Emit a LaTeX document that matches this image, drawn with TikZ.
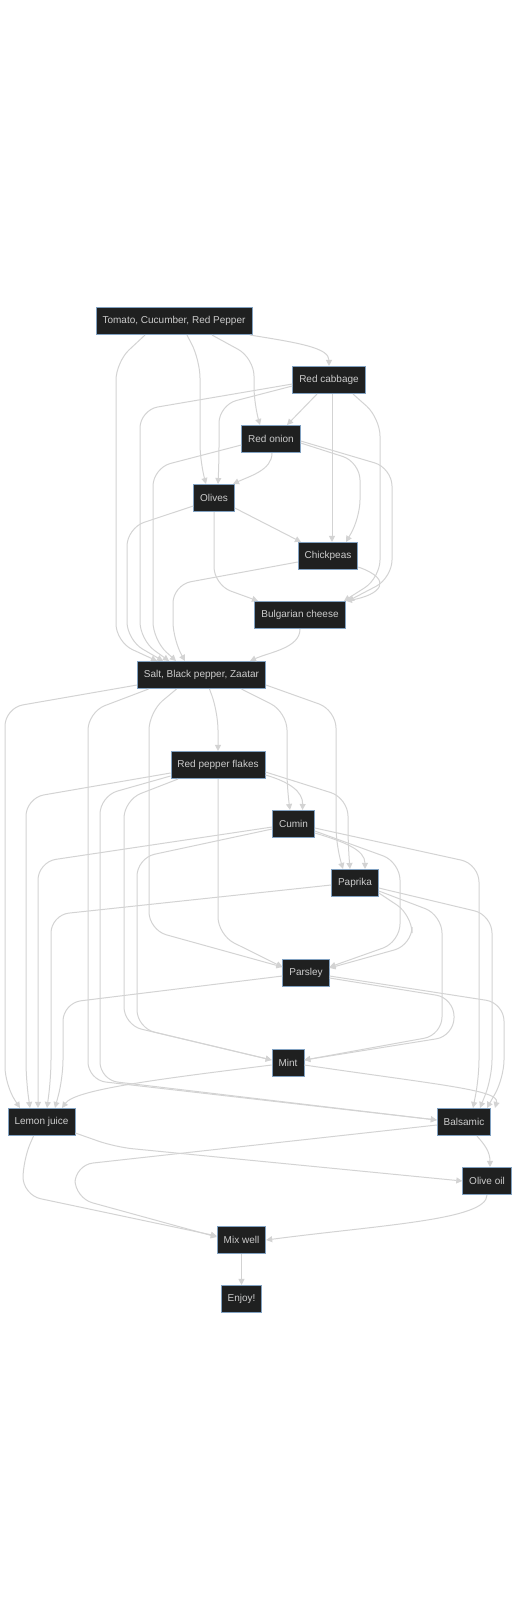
\documentclass[tikz,border=0pt]{standalone}
\usepackage{fontspec}
\setmainfont{Liberation Sans}
\usetikzlibrary{arrows.meta}
\definecolor{nodefill}{HTML}{1F2020}
\definecolor{nodeline}{HTML}{81A1C1}
\definecolor{nodetext}{HTML}{CCCCCC}
\definecolor{edgegray}{HTML}{D3D3D3}
\tikzset{
	% style for the boxes of the recipe
	ingredient/.style={
		draw=nodeline, fill=nodefill, text=nodetext, line width=0.8pt,
		minimum height=27.3pt, inner xsep=6.5pt,
		font=\fontsize{10}{12}\selectfont
	},
	% style for the arrows between the boxes
	flow edge/.style={
		draw=edgegray, line width=1pt, rounded corners=18pt,
		-{Triangle[length=6pt,width=6pt]}
	},
}

\begin{document}
\begin{tikzpicture}[x=1pt,y=-1pt]
		\useasboundingbox (0,0) rectangle (516,1620);
		\node[ingredient] (T) at (174,321) {Tomato, Cucumber, Red Pepper};
		\node[ingredient] (RC) at (329,380) {Red cabbage};
		\node[ingredient] (RO) at (271,439) {Red onion};
		\node[ingredient] (OL) at (214,498) {Olives};
		\node[ingredient] (CP) at (328,556) {Chickpeas};
		\node[ingredient] (BC) at (300,615) {Bulgarian cheese};
		\node[ingredient] (S) at (201.5,675) {Salt, Black pepper, Zaatar};
		\node[ingredient] (RPF) at (218,765) {Red pepper flakes};
		\node[ingredient] (Cu) at (293.5,824) {Cumin};
		\node[ingredient] (Pa) at (355,883) {Paprika};
		\node[ingredient] (Pars) at (306,973) {Parsley};
		\node[ingredient] (Mint) at (288,1063) {Mint};
		\node[ingredient] (LJ) at (41.5,1122) {Lemon juice};
		\node[ingredient] (Bal) at (464,1122) {Balsamic};
		\node[ingredient] (OO) at (487,1181) {Olive oil};
		\node[ingredient] (MW) at (241.5,1240) {Mix well};
		\node[ingredient] (En) at (241.5,1299) {Enjoy!};
		% vegetables
		\draw[flow edge] ([xshift=-29pt]T.south) -- (116,362) -- (116,642) -- ([xshift=-44.5pt]S.north);
		\draw[flow edge] ([xshift=13pt]T.south) -- (200,360) -- (200,462) -- ([xshift=-8pt]OL.north);
		\draw[flow edge] ([xshift=38pt]T.south) -- (254,358) -- (254,405) -- ([xshift=-11pt]RO.north);
		\draw[flow edge] ([xshift=76pt]T.south) .. controls (300,343) and (329,348) .. (RC.north);
		\draw[flow edge] ([xshift=-12pt]RC.south) -- ([xshift=16pt]RO.north);
		\draw[flow edge] ([yshift=-6pt]RC.west) -- (219,405) -- (219,465) -- ([xshift=4pt]OL.north);
		\draw[flow edge] ([yshift=-4pt]RC.west) -- (140,410) -- (140,640) -- ([xshift=-32.5pt]S.north);
		\draw[flow edge] ([xshift=3pt]RC.south) -- ([xshift=4pt]CP.north);
		\draw[flow edge] ([xshift=24pt]RC.south) -- (380,418) -- (380,578) -- ([xshift=44pt]BC.north);
		\draw[flow edge] ([xshift=1pt]RO.south) .. controls (272,470) and (250,476) .. ([xshift=19pt]OL.north);
		\draw[flow edge] ([yshift=-6pt]RO.west) -- (153,468) -- (153,640) -- ([xshift=-25.5pt]S.north);
		\draw[flow edge] ([yshift=-4pt]RO.east) -- (360,462) -- (360,518) -- ([xshift=18pt]CP.north);
		\draw[flow edge] ([yshift=-2pt]RO.east) -- (392,468) -- (392,578) -- ([xshift=48pt]BC.north);
		\draw[flow edge] ([yshift=-10pt]OL.east) -- ([xshift=-27pt]CP.north);
		\draw[flow edge] ([yshift=-8pt]OL.west) -- (127,528) -- (127,640) -- ([xshift=-38.5pt]S.north);
		\draw[flow edge] (OL.south) -- (214,585) -- ([xshift=-42pt]BC.north);
		\draw[flow edge] ([yshift=-6pt]CP.west) -- (173,585) -- (173,640) -- ([xshift=-16.5pt]S.north);
		\draw[flow edge] ([yshift=-11pt]CP.east) .. controls (395,580) and (380,595) .. ([xshift=46pt]BC.north);
		\draw[flow edge] (BC.south) .. controls (300,648) and (270,652) .. ([xshift=48.5pt]S.north);
		% spices
		\draw[flow edge] ([yshift=-10pt]S.west) -- (5,708) -- (5,1085) -- ([xshift=-21.5pt]LJ.north);
		\draw[flow edge] ([xshift=-53pt]S.south) -- (88,712) -- (88,1080) -- ([yshift=2pt]Bal.west);
		\draw[flow edge] ([xshift=-25pt]S.south) -- (149,712) -- (149,930) -- ([yshift=6pt]Pars.west);
		\draw[flow edge] ([xshift=8pt]S.south) -- (218,712) -- (RPF.north);
		\draw[flow edge] ([xshift=40pt]S.south) -- (287,712) -- (287,790) -- ([xshift=-3.5pt]Cu.north);
		\draw[flow edge] ([yshift=-10pt]S.east) -- (336,710) -- (336,845) -- ([xshift=-12pt]Pa.north);
		\draw[flow edge] ([yshift=-8pt]RPF.west) -- (26,798) -- (26,1080) -- ([xshift=-11.5pt]LJ.north);
		\draw[flow edge] ([yshift=-11pt]RPF.west) -- (100,796) -- (100,1080) -- ([yshift=2pt]Bal.west);
		\draw[flow edge] ([xshift=-40pt]RPF.south) -- (124,800) -- (124,1025) -- ([yshift=3pt]Mint.west);
		\draw[flow edge] (RPF.south) -- (218,935) -- ([yshift=6pt]Pars.west);
		\draw[flow edge] ([yshift=-10pt]RPF.east) .. controls (290,782) and (303,792) .. ([xshift=9pt]Cu.north);
		\draw[flow edge] ([yshift=-7pt]RPF.east) -- (348,798) -- (348,845) -- ([xshift=-5pt]Pa.north);
		\draw[flow edge] ([yshift=-3pt]Cu.west) -- (38,862) -- ([xshift=-3.5pt]LJ.north);
		\draw[flow edge] ([yshift=-5pt]Cu.west) -- (137,858) -- (137,1028) -- ([yshift=3pt]Mint.west);
		\draw[flow edge] ([yshift=-9pt]Cu.east) .. controls (345,842) and (365,850) .. ([xshift=10pt]Pa.north);
		\draw[flow edge] ([yshift=-7pt]Cu.east) -- (400,862) -- (400,942) -- ([yshift=6pt]Pars.east);
		\draw[flow edge] ([yshift=-4pt]Cu.east) -- (479,864) -- (479,1078) -- ([xshift=9pt]Bal.north);
		\draw[flow edge] ([yshift=-2pt]Pa.west) -- (51,915) -- (51,1078) -- ([xshift=5.5pt]LJ.north);
		\draw[flow edge] ([yshift=-10pt]Pa.east) -- (412,915) -- (412,945) -- ([yshift=5pt]Pars.east);
		\draw[flow edge] ([yshift=-8pt]Pa.east) -- (442,915) -- (442,1035) -- ([yshift=3pt]Mint.east);
		\draw[flow edge] ([yshift=-5pt]Pa.east) -- (492,915) -- (492,1078) -- ([xshift=16pt]Bal.north);
		\draw[flow edge] ([yshift=-3pt]Pars.west) -- (63,1003) -- (63,1078) -- ([xshift=13.5pt]LJ.north);
		\draw[flow edge] ([yshift=-5pt]Pars.east) -- (454,998) -- (454,1036) -- ([yshift=3pt]Mint.east);
		\draw[flow edge] ([yshift=-3pt]Pars.east) -- (504,1003) -- (504,1078) -- ([xshift=23pt]Bal.north);
		\draw[flow edge] ([yshift=-2pt]Mint.west) .. controls (150,1080) and (75,1090) .. ([xshift=20.5pt]LJ.north);
		\draw[flow edge] ([yshift=-2pt]Mint.east) .. controls (440,1085) and (500,1090) .. ([xshift=31pt]Bal.north);
		% dressing
		\draw[flow edge] ([yshift=-11pt]LJ.east) -- (115,1147) -- (OO.west);
		\draw[flow edge] ([xshift=-8pt]LJ.south) -- (23,1160) -- (23,1195) -- ([yshift=4pt]MW.west);
		\draw[flow edge] ([yshift=-3pt]Bal.west) -- (75,1165) -- (75,1198) -- ([yshift=3pt]MW.west);
		\draw[flow edge] ([xshift=13pt]Bal.south) .. controls (485,1145) and (490,1152) .. ([xshift=3pt]OO.north);
		\draw[flow edge] (OO.south) .. controls (487,1220) and (380,1225) .. (MW.east);
		\draw[flow edge] (MW) -- (En);
		\end{tikzpicture}
\end{document}
